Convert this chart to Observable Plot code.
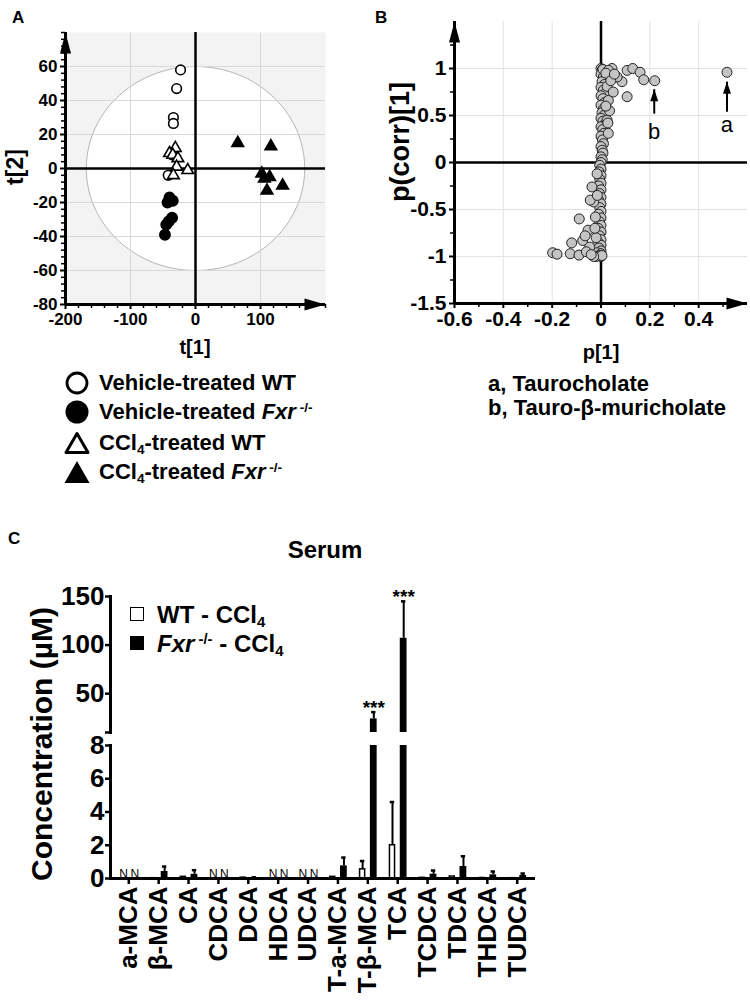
<!DOCTYPE html>
<html><head><meta charset="utf-8">
<script src="https://cdn.jsdelivr.net/npm/d3@7"></script>
<script src="https://cdn.jsdelivr.net/npm/@observablehq/plot@0.6"></script>
<style>
body{margin:0;background:#fff;}
#fig{position:relative;width:750px;height:1002px;overflow:hidden;font-family:"Liberation Sans",Arial,Helvetica,sans-serif;font-weight:bold;color:#000;background:#fff;}
.abs{position:absolute;white-space:nowrap;line-height:1;}
.c{transform:translate(-50%,-50%);}
.r{transform:translate(-50%,-50%) rotate(-90deg);}
.v{transform:translateY(-50%);}
sub,sup{line-height:0;font-size:62%;}
sub{vertical-align:-0.3em;}
sup{vertical-align:0.55em;}
</style></head><body><div id="fig"></div>
<script>
// ---------- Panel A data (scores plot) ----------
const vehWT_t1 = [-23, -29, -34, -34, -36, -42];
const vehWT_t2 = [58, 47, 30, 26.5, 8, -4];
const vehFxr_t1 = [-40, -43, -35, -36, -41, -45, -47];
const vehFxr_t2 = [-17, -20, -19, -29, -31, -33, -39];
const cclWT_t1 = [-31, -40, -35, -27, -29, -12, -34];
const cclWT_t2 = [12, 9, 8, 6, 1, -1, -4];
const cclFxr_t1 = [65, 116, 102, 106, 114, 134, 110];
const cclFxr_t2 = [15, 13, -3, -6, -5, -10, -13];
const ellipseRx = 168, ellipseRy = 60;
const aTicksX = [-200, -100, 0, 100];
const aTicksY = [-80, -60, -40, -20, 0, 20, 40, 60];

// ---------- Panel B data (S-plot) ----------
const bLoad = [0,0.006,0.012,0.018,0,0.01,0.02,0.004,0.014,0,0.01,0.02,0,0.008,0.016,0,0.01,0.004,0.012,0,0.008,0.016,0,0.007,0.012,0,0.006,0.01,0,0.005,0.008,0,0.005,0,
 -0.005,0,-0.008,0,-0.005,0,-0.01,0,-0.006,0,-0.01,0,-0.005,0,-0.01,0,-0.006,0,-0.012,0,-0.006,0,-0.012,0,-0.008,0,-0.015,0,-0.008,0,-0.02,0.004,
 0.008,0.045,0.03,0.107,0.13,0.16,0.175,0.22,0.107,0.516,0.086,0.066,0.025,0.03,0.025,0.03,0.05,0.02,0.04,0.055,0.035,0.02,0.028,
 -0.198,-0.18,-0.12,-0.126,-0.09,-0.075,-0.089,-0.053,-0.037,-0.03,-0.046,-0.023,-0.03,-0.016,-0.044,-0.06,-0.065,-0.02,-0.04,-0.015,-0.025];
const bCorr = [1,0.99,0.97,0.95,0.94,0.91,0.89,0.86,0.83,0.8,0.77,0.74,0.71,0.68,0.64,0.61,0.57,0.53,0.5,0.47,0.44,0.41,0.38,0.35,0.31,0.28,0.24,0.2,0.17,0.13,0.1,0.06,0.03,0,
 -0.03,-0.07,-0.1,-0.14,-0.18,-0.22,-0.25,-0.29,-0.33,-0.37,-0.4,-0.44,-0.48,-0.52,-0.55,-0.59,-0.63,-0.67,-0.7,-0.74,-0.78,-0.82,-0.85,-0.88,-0.91,-0.94,-0.96,-0.97,-0.99,-1,-1,-0.99,
 0.99,1,0.98,0.98,1,0.96,0.88,0.87,0.7,0.96,0.86,0.91,0.81,0.66,0.45,0.31,0.75,0.95,0.87,0.94,0.55,0.6,0.42,
 -0.96,-0.975,-0.855,-0.97,-0.985,-0.83,-0.6,-0.72,-0.26,-0.42,-0.9,-0.58,-1,-0.12,-0.4,-0.95,-0.78,-0.8,-0.98,-0.35,-0.7];
const bTicksX = [-0.6, -0.4, -0.2, 0, 0.2, 0.4];
const bTicksY = [-1.5, -1, -0.5, 0, 0.5, 1];
const bAnnot = [{label: "a", x: 0.516, y0: 0.54, y1: 0.86, ty: 0.40}, {label: "b", x: 0.218, y0: 0.52, y1: 0.78, ty: 0.33}];

// ---------- Panel C data (serum bile acids, µM) ----------
const cats = ["a-MCA","β-MCA","CA","CDCA","DCA","HDCA","UDCA","T-a-MCA","T-β-MCA","TCA","TCDCA","TDCA","THDCA","TUDCA"];
const wtMean = [null, 0.02, 0.1, null, 0.05, null, null, 0.1, 0.55, 2.0, 0.04, 0.12, 0.03, 0.02];
const wtSem  = [null, 0, 0, null, 0, null, null, 0, 0.5, 2.6, 0, 0, 0, 0];
const fxrMean = [null, 0.42, 0.25, null, 0.05, null, null, 0.76, 24, 107, 0.26, 0.72, 0.22, 0.18];
const fxrSem  = [null, 0.3, 0.25, null, 0.02, null, null, 0.5, 7, 38, 0.22, 0.62, 0.2, 0.12];
const signif = [null, null, null, null, null, null, null, null, "***", "***", null, null, null, null];
const cTicksLow = [0, 2, 4, 6, 8];
const cTicksHigh = [10, 50, 100, 150];

// ---------- helpers ----------
const fig = document.getElementById("fig");
const FONT = "Liberation Sans, Arial, Helvetica, sans-serif";
function place(el, left, top) { el.style.position = "absolute"; el.style.left = left + "px"; el.style.top = top + "px"; fig.appendChild(el); }
function txt(html, cls, left, top, size, extra = "") {
  const d = document.createElement("div");
  d.className = "abs " + cls;
  d.innerHTML = html;
  d.style.cssText += `left:${left}px;top:${top}px;font-size:${size}px;` + extra;
  fig.appendChild(d);
  return d;
}
const arrowUp = {draw(c) { c.moveTo(0, 0); c.lineTo(5.5, 21); c.lineTo(-5.5, 21); c.closePath(); }};
const arrowRight = {draw(c) { c.moveTo(0, 0); c.lineTo(-21, 6); c.lineTo(-21, -6); c.closePath(); }};
const arrowSmall = {draw(c) { c.moveTo(0, 0); c.lineTo(4, 12); c.lineTo(-4, 12); c.closePath(); }};
const zip = (xs, ys) => xs.map((x, i) => ({x, y: ys[i]}));
const svgStyle = (size) => ({fontFamily: FONT, fontWeight: "bold", fontSize: size + "px", color: "#000", background: "transparent", overflow: "visible"});

// ---------- Panel A ----------
const ellipse = d3.range(0, 361, 2).map(a => ({x: ellipseRx * Math.cos(a * Math.PI / 180), y: ellipseRy * Math.sin(a * Math.PI / 180)}));
const aMinorY = d3.range(-80, 81, 4).filter(v => !aTicksY.includes(v));
const aMinorX = d3.range(-200, 201, 20).filter(v => !aTicksX.includes(v));
const plotA = Plot.plot({
  width: 360, height: 370, marginLeft: 65, marginRight: 35, marginTop: 32, marginBottom: 66,
  x: {domain: [-200, 200]}, y: {domain: [-80, 80]},
  style: svgStyle(17),
  marks: [
    Plot.frame({fill: "#f3f3f3", stroke: "none"}),
    Plot.line(ellipse, {x: "x", y: "y", fill: "white", stroke: "#b4b4b4", strokeWidth: 1}),
    Plot.gridX([-100, 100], {stroke: "#d8d8d8", strokeOpacity: 1, strokeWidth: 1}),
    Plot.gridY([-60, -40, -20, 20, 40, 60], {stroke: "#d8d8d8", strokeOpacity: 1, strokeWidth: 1}),
    Plot.ruleX([0], {stroke: "black", strokeWidth: 2.5}),
    Plot.ruleY([0], {stroke: "black", strokeWidth: 2.5}),
    Plot.ruleX([-200], {stroke: "black", strokeWidth: 3}),
    Plot.ruleY([-80], {stroke: "black", strokeWidth: 3}),
    Plot.axisY({ticks: aTicksY, tickSize: 5, tickPadding: 3, fontSize: 17, label: null, strokeWidth: 2, tickFormat: d => String(d)}),
    Plot.axisY({ticks: aMinorY, tickSize: 4, label: null, strokeWidth: 1.5, tickFormat: () => ""}),
    Plot.axisX({ticks: aTicksX, tickSize: 5, tickPadding: 3, fontSize: 17, label: null, strokeWidth: 2, tickFormat: d => String(d)}),
    Plot.axisX({ticks: aMinorX, tickSize: 4, label: null, strokeWidth: 1.5, tickFormat: () => ""}),
    Plot.dot([{x: -200, y: 80}], {x: "x", y: "y", symbol: arrowUp, fill: "black", stroke: "none"}),
    Plot.dot([{x: 200, y: -80}], {x: "x", y: "y", symbol: arrowRight, fill: "black", stroke: "none"}),
    Plot.dot(zip(vehFxr_t1, vehFxr_t2), {x: "x", y: "y", r: 5.2, fill: "black", stroke: "black"}),
    Plot.dot(zip(cclFxr_t1, cclFxr_t2), {x: "x", y: "y", symbol: "triangle", r: 4.4, fill: "black", stroke: "black"}),
    Plot.dot(zip(vehWT_t1, vehWT_t2), {x: "x", y: "y", r: 4.8, fill: "white", stroke: "black", strokeWidth: 1.6}),
    Plot.dot(zip(cclWT_t1, cclWT_t2), {x: "x", y: "y", symbol: "triangle", r: 4.3, fill: "white", stroke: "black", strokeWidth: 1.6})
  ]
});
place(plotA, 0, 0);

// ---------- Panel B ----------
const plotB = Plot.plot({
  width: 390, height: 370, marginLeft: 94, marginRight: 3, marginTop: 21, marginBottom: 67,
  x: {domain: [-0.6, 0.6]}, y: {domain: [-1.5, 1.5]},
  style: svgStyle(21),
  marks: [
    Plot.gridX([-0.4, -0.2, 0.2, 0.4], {stroke: "#e2e2e2", strokeOpacity: 1}),
    Plot.gridY([-1, -0.5, 0.5, 1], {stroke: "#e2e2e2", strokeOpacity: 1}),
    Plot.ruleX([0], {stroke: "black", strokeWidth: 2.5}),
    Plot.ruleY([0], {stroke: "black", strokeWidth: 2.5}),
    Plot.ruleX([-0.6], {stroke: "black", strokeWidth: 3}),
    Plot.ruleY([-1.5], {stroke: "black", strokeWidth: 3}),
    Plot.axisY({ticks: bTicksY, tickSize: 5, tickPadding: 3, fontSize: 21, label: null, strokeWidth: 2, tickFormat: d => String(d)}),
    Plot.axisY({ticks: [-1.25, -0.75, -0.25, 0.25, 0.75, 1.25], tickSize: 4, label: null, strokeWidth: 1.5, tickFormat: () => ""}),
    Plot.axisX({ticks: bTicksX, tickSize: 5, tickPadding: 3, fontSize: 21, label: null, strokeWidth: 2, tickFormat: d => String(d)}),
    Plot.axisX({ticks: [-0.5, -0.3, -0.1, 0.1, 0.3, 0.5], tickSize: 4, label: null, strokeWidth: 1.5, tickFormat: () => ""}),
    Plot.dot([{x: -0.6, y: 1.5}], {x: "x", y: "y", symbol: arrowUp, fill: "black", stroke: "none"}),
    Plot.dot([{x: 0.6, y: -1.5}], {x: "x", y: "y", symbol: arrowRight, fill: "black", stroke: "none"}),
    Plot.dot(zip(bLoad, bCorr), {x: "x", y: "y", r: 5, fill: "#c4c4c4", stroke: "#222", strokeWidth: 1}),
    Plot.link(bAnnot, {x1: "x", x2: "x", y1: "y0", y2: "y1", stroke: "black", strokeWidth: 2}),
    Plot.dot(bAnnot, {x: "x", y: "y1", symbol: arrowSmall, fill: "black", stroke: "none"}),
    Plot.text(bAnnot, {x: "x", y: "ty", text: "label", fontSize: 22, fontWeight: "normal", fill: "black"})
  ]
});
place(plotB, 360, 0);

// ---------- Panel C ----------
const cData = cats.map((c, i) => ({cat: c, wt: wtMean[i], wtE: wtSem[i], fxr: fxrMean[i], fxrE: fxrSem[i], sig: signif[i]}));
const wtD = cData.filter(d => d.wt != null);
const fxD = cData.filter(d => d.fxr != null);
const wtErrD = wtD.filter(d => d.wtE > 0);
const fxErrD = fxD.filter(d => d.fxrE > 0);
const ndD = cData.filter(d => d.wt == null);
const sigD = cData.filter(d => d.sig);
const xC = {domain: cats, paddingInner: 0, paddingOuter: 0.112, round: false};
const barMarks = [
  Plot.barY(wtD, {x: "cat", y: "wt", fill: "white", stroke: "black", strokeWidth: 1.5, insetLeft: 7.2, insetRight: 17.6, clip: true}),
  Plot.barY(fxD, {x: "cat", y: "fxr", fill: "black", insetLeft: 17.5, insetRight: 5.6, clip: true}),
  Plot.ruleX(wtErrD, {x: "cat", y1: "wt", y2: d => d.wt + d.wtE, dx: -5.2, stroke: "black", strokeWidth: 2, clip: true}),
  Plot.ruleX(fxErrD, {x: "cat", y1: "fxr", y2: d => d.fxr + d.fxrE, dx: 6, stroke: "black", strokeWidth: 2, clip: true}),
  Plot.tickY(wtErrD, {x: "cat", y: d => d.wt + d.wtE, insetLeft: 7.5, insetRight: 18, stroke: "black", strokeWidth: 2.5, clip: true}),
  Plot.tickY(fxErrD, {x: "cat", y: d => d.fxr + d.fxrE, insetLeft: 18.7, insetRight: 6.8, stroke: "black", strokeWidth: 2.5, clip: true})
];
const plotCHigh = Plot.plot({
  width: 560, height: 156, marginLeft: 110, marginRight: 25, marginTop: 20, marginBottom: 0,
  x: {...xC}, y: {domain: [10, 150]},
  style: svgStyle(26),
  marks: [
    ...barMarks,
    Plot.text(sigD, {x: "cat", y: d => d.fxr + d.fxrE, text: "sig", dx: 6, dy: 2, lineAnchor: "bottom", fontSize: 19, fontWeight: "bold", fill: "black"}),
    Plot.frame({anchor: "left", stroke: "black", strokeWidth: 3}),
    Plot.axisY({ticks: cTicksHigh, tickSize: 5, tickPadding: 1, fontSize: 26, label: null, strokeWidth: 2.5, tickFormat: d => d === 10 ? "" : String(d)}),
    Plot.axisX({ticks: [], label: null})
  ]
});
place(plotCHigh, 0, 576);

const plotCLow = Plot.plot({
  width: 560, height: 267, marginLeft: 110, marginRight: 25, marginTop: 10, marginBottom: 124,
  x: {...xC}, y: {domain: [0, 8]},
  style: svgStyle(26),
  marks: [
    ...barMarks,
    Plot.text(ndD, {x: "cat", y: 0, text: () => "N", dx: -5.2, dy: -1, lineAnchor: "bottom", fontSize: 12, fontWeight: "normal", fill: "black"}),
    Plot.text(ndD, {x: "cat", y: 0, text: () => "N", dx: 6, dy: -1, lineAnchor: "bottom", fontSize: 12, fontWeight: "normal", fill: "black"}),
    Plot.ruleY([0], {stroke: "black", strokeWidth: 3}),
    Plot.frame({anchor: "left", stroke: "black", strokeWidth: 3}),
    Plot.axisY({ticks: cTicksLow, tickSize: 5, tickPadding: 1, fontSize: 26, label: null, strokeWidth: 2.5, tickFormat: d => String(d)}),
    Plot.axisX({tickRotate: -90, tickSize: 6, tickPadding: 2, fontSize: 26, label: null, strokeWidth: 2.5})
  ]
});
place(plotCLow, 0, 735);

// ---------- Text, labels, legends ----------
txt("A", "", 12, 9, 17);
txt("B", "", 375, 9, 17);
txt("C", "", 8, 530, 17);
txt("t[2]", "r", 15, 167, 23);
txt("t[1]", "c", 195, 347, 20);
txt("p(corr)[1]", "r", 400, 142, 27);
txt("p[1]", "c", 601, 352, 20);
txt("a, Taurocholate", "v", 488, 384, 22);
txt("b, Tauro-β-muricholate", "v", 488, 408, 22);
txt("Serum", "c", 325, 550, 24);
txt("Concentration (µM)", "r", 42, 744, 30);

// legend A
const legA = [
  {label: "Vehicle-treated WT", shape: '<circle cx="12" cy="12" r="10" fill="white" stroke="black" stroke-width="2.8"/>'},
  {label: "Vehicle-treated <i>Fxr</i><sup> -/-</sup>", shape: '<circle cx="12" cy="12" r="11.5" fill="black"/>'},
  {label: "CCl<sub>4</sub>-treated WT", shape: '<polygon points="12,2.5 23,21.5 1,21.5" fill="white" stroke="black" stroke-width="3" stroke-linejoin="round"/>'},
  {label: "CCl<sub>4</sub>-treated <i>Fxr</i><sup> -/-</sup>", shape: '<polygon points="12,1 24.5,23 -0.5,23" fill="black"/>'}
];
const legAy = [383, 412, 443, 472];
legA.forEach((d, i) => {
  const s = document.createElementNS("http://www.w3.org/2000/svg", "svg");
  s.setAttribute("width", 24); s.setAttribute("height", 24); s.setAttribute("viewBox", "0 0 24 24");
  s.style.overflow = "visible";
  s.innerHTML = d.shape;
  place(s, 64.5, legAy[i] - 12);
  txt(d.label, "v", 99, legAy[i], 22);
});

// legend C
const legC = [
  {label: "WT - CCl<sub>4</sub>", fill: "white"},
  {label: "<i>Fxr</i><sup> -/-</sup> - CCl<sub>4</sub>", fill: "black"}
];
const legCy = [615, 644];
legC.forEach((d, i) => {
  const b = document.createElement("div");
  b.style.cssText = `width:12px;height:12px;border:1.8px solid black;background:${d.fill};`;
  place(b, 130, legCy[i] - 8);
  txt(d.label, "v", 157, legCy[i], 24);
});
</script></body></html>
